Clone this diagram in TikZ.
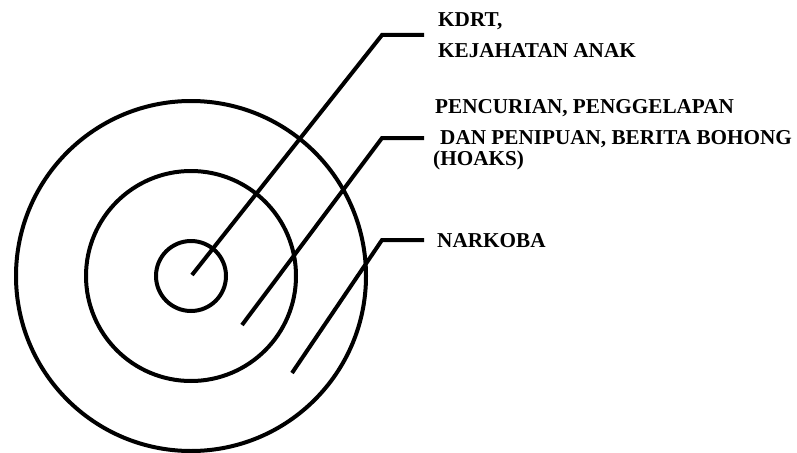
\documentclass[tikz,border=0pt]{standalone}
\usepackage{fontspec}
\setmainfont{Liberation Serif}
\usetikzlibrary{positioning}

\begin{document}
\begin{tikzpicture}[
            x=1pt,y=-1pt,
            ring/.style={line width=4pt},
            leader/.style={line width=4pt,miter limit=10},
            label/.style={anchor=base west,inner sep=0pt,font=\fontsize{21.2}{25}\selectfont\bfseries}
        ]
        \useasboundingbox (0,0) rectangle (797,452);

        \coordinate (c) at (191,276);
        \draw[ring] (c) circle (35);
        \draw[ring] (c) circle (105);
        \draw[ring] (c) circle (175);

        \coordinate (a0) at (192,275);
        \coordinate (a1) at (382,35);
        \coordinate (a2) at (424,35);
        \coordinate (b0) at (242,325);
        \coordinate (b1) at (382,138);
        \coordinate (b2) at (424,138);
        \coordinate (d0) at (292,373);
        \coordinate (d1) at (382,240);
        \coordinate (d2) at (424,240);

        \node[label] (kdrt) at (438,27)  {KDRT,};
        \node[label] (anak) at (438,58)  {KEJAHATAN ANAK};
        \node[label] (curi) at (435,113) {PENCURIAN, PENGGELAPAN};
        \node[label] (tipu) at (440,144) {DAN PENIPUAN, BERITA BOHONG};
        \node[label] (hoax) at (433,165) {(HOAKS)};
        \node[label] (narkoba) at (437,247) {NARKOBA};

        \draw[leader] (a0) -- (a1) -- (a2);
        \draw[leader] (b0) -- (b1) -- (b2);
        \draw[leader] (d0) -- (d1) -- (d2);
    \end{tikzpicture}
\end{document}
